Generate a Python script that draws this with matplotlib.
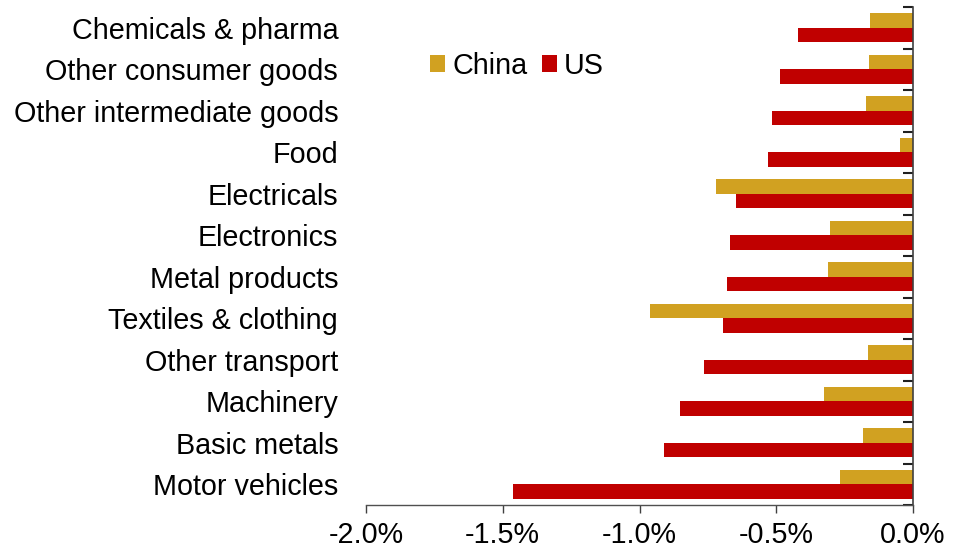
import matplotlib
matplotlib.use("Agg")
import matplotlib.pyplot as plt
import numpy as np
from matplotlib.ticker import FuncFormatter, FixedLocator

categories = ["Motor vehicles", "Basic metals", "Machinery", "Other transport",
              "Textiles & clothing", "Metal products", "Electronics", "Electricals",
              "Food", "Other intermediate goods", "Other consumer goods", "Chemicals & pharma"]
china = [-0.268, -0.181, -0.327, -0.165, -0.960, -0.311, -0.303, -0.720,
         -0.049, -0.171, -0.161, -0.156]
us = [-1.464, -0.910, -0.851, -0.764, -0.695, -0.680, -0.668, -0.648,
      -0.530, -0.516, -0.485, -0.420]
xticks = [-2.0, -1.5, -1.0, -0.5, 0.0]

plt.rcParams['font.family'] = ['Liberation Sans', 'DejaVu Sans']
FS = 20.7

fig = plt.figure(figsize=(9.55, 5.53), dpi=100)
ax = fig.add_axes([366/955, 1-505/553, (913-366)/955, (505-7)/553])

y = np.arange(len(categories))
h = 0.35
ax.barh(y + h/2, china, height=h, color="#D1A121", label="China")
ax.barh(y - h/2, us, height=h, color="#C00000", label="US")

ax.set_xlim(-2.0, 0.0)
ax.set_ylim(-0.5, len(categories) - 0.5)
ax.set_xticks(xticks)
ax.xaxis.set_major_formatter(FuncFormatter(lambda v, p: f"{v:.1f}%"))
ax.tick_params(axis='x', direction='out', length=6, width=1, labelsize=FS, pad=5.5, color='#404040')

ax.set_yticks(y)
ax.set_yticklabels(categories)
ax.tick_params(axis='y', which='major', length=0, labelsize=FS, pad=20)
ax.yaxis.set_minor_locator(FixedLocator(np.arange(-0.5, len(categories), 1.0)))
ax.tick_params(axis='y', which='minor', left=False, right=True, direction='in', length=7, width=1.5, color='#202020')

for s in ['top', 'left']:
    ax.spines[s].set_visible(False)
ax.spines['right'].set_color('#404040')
ax.spines['right'].set_linewidth(1.2)
ax.spines['bottom'].set_color('#505050')
ax.spines['bottom'].set_linewidth(1.0)

ax.legend(loc='center left', bbox_to_anchor=(0.117, 0.882), ncol=2, frameon=False,
          fontsize=FS, handlelength=0.52, handleheight=0.52, handletextpad=0.25,
          columnspacing=0.5, borderpad=0, borderaxespad=0)

fig.savefig("out.png", dpi=100)
